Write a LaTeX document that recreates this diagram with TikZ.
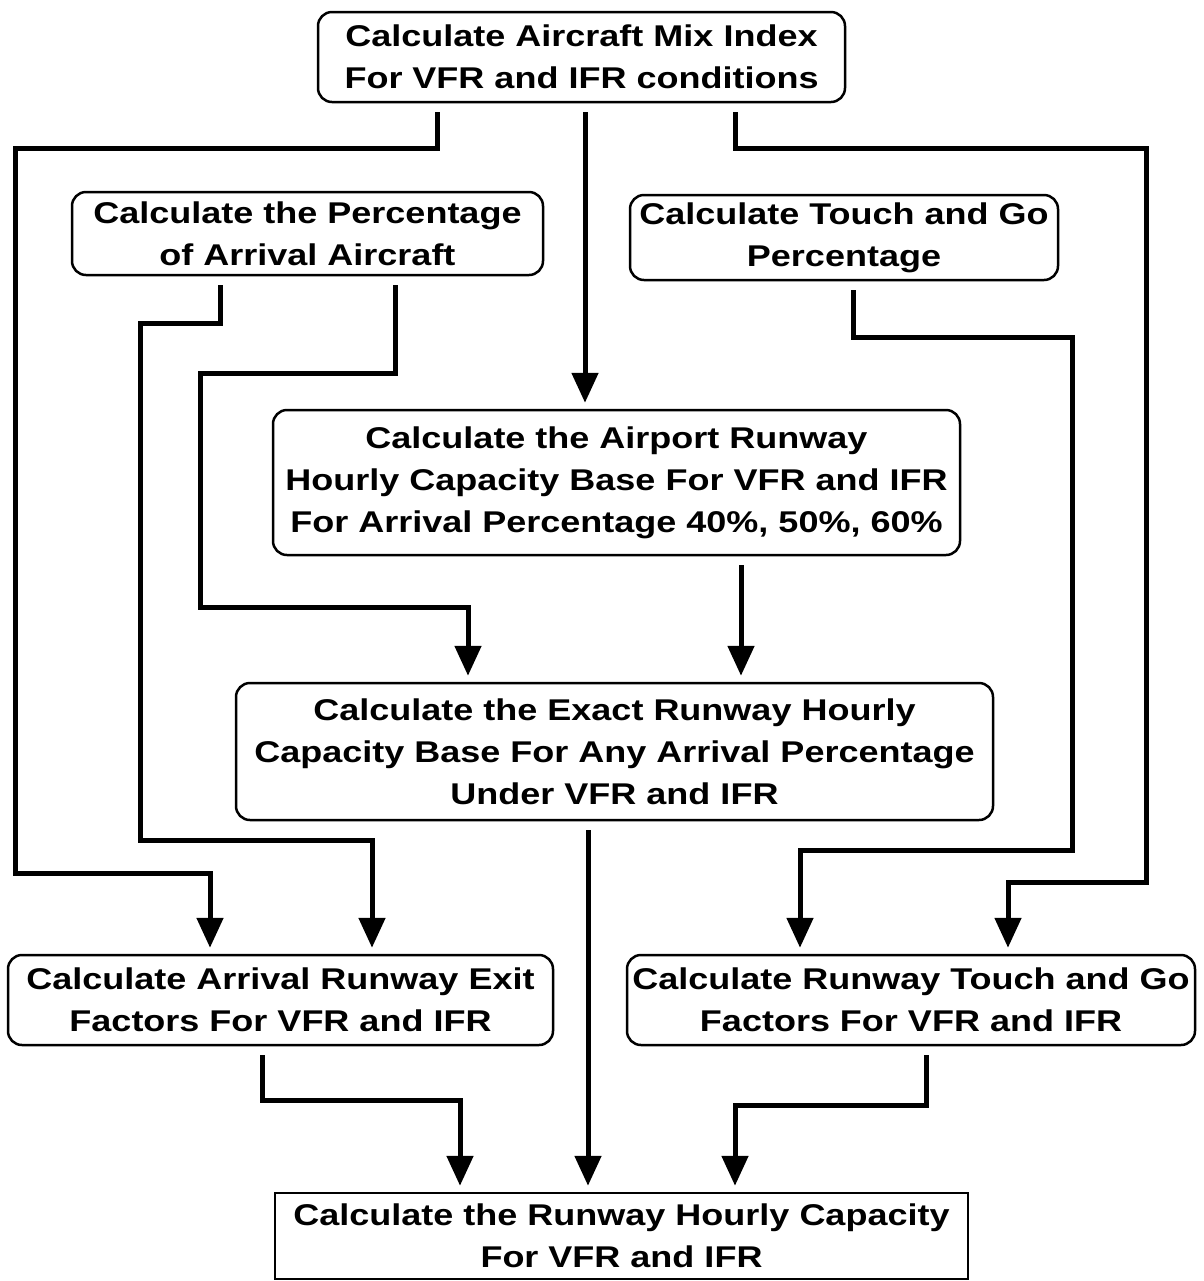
\documentclass[tikz,border=0pt]{standalone}
\usepackage{fontspec}
\setmainfont{Liberation Sans}[FakeStretch=1.2]
\usetikzlibrary{arrows.meta}
\begin{document}
\begin{tikzpicture}[x=0.5pt,y=-0.5pt,
  box/.style={draw,line width=1.25pt,rounded corners=7pt,align=center,
    font=\bfseries\fontsize{15}{21}\selectfont,inner sep=0pt},
  sqbox/.style={box,sharp corners},
  conn/.style={line width=2.5pt,-{Triangle[width=13pt,length=15pt]},
    shorten <=4.5pt,shorten >=3pt}]
\useasboundingbox (0,0) rectangle (1204,1281);

% process boxes
\node[box,minimum width=263.5pt,minimum height=45pt] (mix) at (581.5,57)
  {Calculate Aircraft Mix Index\\For VFR and IFR conditions};
\node[box,minimum width=235.5pt,minimum height=41.5pt] (pct) at (307.5,233.5)
  {Calculate the Percentage\\of Arrival Aircraft};
\node[box,minimum width=214pt,minimum height=42.5pt] (tg) at (844,237.5)
  {Calculate Touch and Go\\Percentage};
\node[box,minimum width=343.5pt,minimum height=72.5pt] (base) at (616.5,482.5)
  {Calculate the Airport Runway\\Hourly Capacity Base For VFR and IFR\\For Arrival Percentage 40\%, 50\%, 60\%};
\node[box,minimum width=378.5pt,minimum height=68.5pt] (exact) at (614.5,751.5)
  {Calculate the Exact Runway Hourly\\Capacity Base For Any Arrival Percentage\\Under VFR and IFR};
\node[box,minimum width=272.5pt,minimum height=45pt] (exit) at (280.5,1000)
  {Calculate Arrival Runway Exit\\Factors For VFR and IFR};
\node[box,minimum width=284pt,minimum height=45pt] (tgf) at (911,1000)
  {Calculate Runway Touch and Go\\Factors For VFR and IFR};
\node[sqbox,minimum width=346.5pt,minimum height=43pt] (cap) at (621.5,1236)
  {Calculate the Runway Hourly Capacity\\For VFR and IFR};

% connectors
\draw[conn] (mix.south -| 437,0) |- (15,148) |- (210,873) -- (exit.north -| 210,0);
\draw[conn] (mix.south -| 585,0) -- (base.north -| 585,0);
\draw[conn] (mix.south -| 735,0) |- (1146,148) |- (1008,882) -- (tgf.north -| 1008,0);
\draw[conn] (pct.south -| 220,0) |- (140,323) |- (372,840) -- (exit.north -| 372,0);
\draw[conn] (pct.south -| 395,0) |- (200,373) |- (468,607) -- (exact.north -| 468,0);
\draw[conn] (base.south -| 741,0) -- (exact.north -| 741,0);
\draw[conn] (tg.south -| 853,0) |- (1072,337) |- (800,850) -- (tgf.north -| 800,0);
\draw[conn] (exact.south -| 588,0) -- (cap.north -| 588,0);
\draw[conn] (exit.south -| 262,0) |- (460,1100) -- (cap.north -| 460,0);
\draw[conn] (tgf.south -| 926,0) |- (735,1105) -- (cap.north -| 735,0);
\end{tikzpicture}
\end{document}
